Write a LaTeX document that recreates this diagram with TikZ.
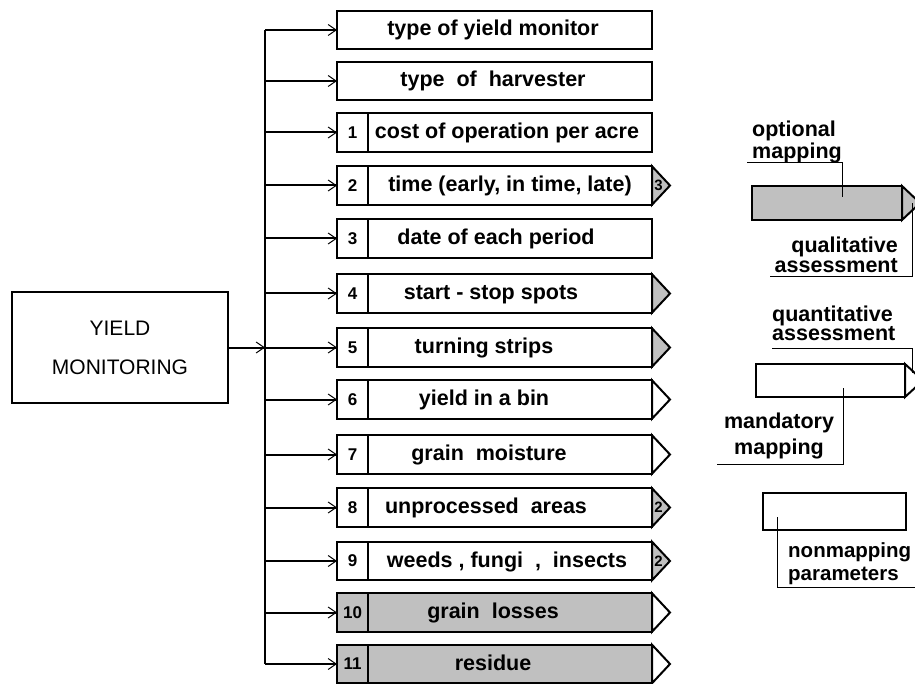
\documentclass[tikz,border=0pt]{standalone}
\usepackage{fontspec}
\setmainfont{Liberation Sans}
\usetikzlibrary{arrows.meta}
\definecolor{panelgray}{RGB}{192,192,192}

\begin{document}
\begin{tikzpicture}[x=1pt,y=-1pt,
  frame/.style={draw,line width=2.4pt,inner sep=0pt,outer sep=0pt},
  rowbox/.style={frame,minimum width=315pt,minimum height=38.5pt},
  numcell/.style={frame,minimum width=31pt,minimum height=38.5pt,anchor=west,
    font=\bfseries\fontsize{17}{17}\selectfont},
  label/.style={inner sep=0pt,anchor=base,font=\bfseries\fontsize{21.5}{21.5}\selectfont},
  tipnum/.style={inner sep=0pt,font=\bfseries\fontsize{15}{15}\selectfont},
  tip/.style={draw,line width=2pt,line join=miter},
  branch/.style={line width=2pt,-{Straight Barb[length=8pt,width=11pt,line width=1pt]}},
  trunk/.style={line width=2.6pt},
  leader/.style={line width=1pt},
  legtext/.style={inner sep=0pt,font=\bfseries\fontsize{21.5}{#1}\selectfont},
]
\useasboundingbox (0,0) rectangle (915,684);

% root box
\node[frame,minimum width=216pt,minimum height=111pt,align=center,
      font=\fontsize{21}{39}\selectfont] (ym) at (120,347.5) {YIELD\\MONITORING};

% parameter rows (text nodes sit on their baselines)
\node[rowbox] (b0) at (494.5,30) {};
\node[label] (t0) at (493,36) {type of yield monitor};

\node[rowbox] (b1) at (494.5,81) {};
\node[label] (t1) at (493,87) {type\ \ of\ \ harvester};

\node[rowbox] (b2) at (494.5,132.5) {};
\node[numcell] (n2) at (b2.west) {1};
\node[label] (t2) at (507,138.5) {cost of operation per acre};

\node[rowbox] (b3) at (494.5,185.5) {};
\node[numcell] (n3) at (b3.west) {2};
\node[label] (t3) at (510,191.5) {time (early, in time, late)};

\node[rowbox] (b4) at (494.5,238.5) {};
\node[numcell] (n4) at (b4.west) {3};
\node[label] (t4) at (496,244.5) {date of each period};

\node[rowbox] (b5) at (494.5,293.5) {};
\node[numcell] (n5) at (b5.west) {4};
\node[label] (t5) at (491,299.5) {start - stop spots};

\node[rowbox] (b6) at (494.5,347.5) {};
\node[numcell] (n6) at (b6.west) {5};
\node[label] (t6) at (484,353.5) {turning strips};

\node[rowbox] (b7) at (494.5,399.5) {};
\node[numcell] (n7) at (b7.west) {6};
\node[label] (t7) at (484,405.5) {yield in a bin};

\node[rowbox] (b8) at (494.5,454.5) {};
\node[numcell] (n8) at (b8.west) {7};
\node[label] (t8) at (489,460.5) {grain\ \ moisture};

\node[rowbox] (b9) at (494.5,507.5) {};
\node[numcell] (n9) at (b9.west) {8};
\node[label] (t9) at (486,513.5) {unprocessed\ \ areas};

\node[rowbox] (b10) at (494.5,561) {};
\node[numcell] (n10) at (b10.west) {9};
\node[label] (t10) at (507,567) {weeds , fungi\ \ ,\ \ insects};

\node[rowbox,fill=panelgray] (b11) at (494.5,612.5) {};
\node[numcell,fill=panelgray] (n11) at (b11.west) {10};
\node[label] (t11) at (493,618.5) {grain\ \ losses};

\node[rowbox,fill=panelgray] (b12) at (494.5,664) {};
\node[numcell,fill=panelgray] (n12) at (b12.west) {11};
\node[label] (t12) at (493,670) {residue};

% assessment tips
\foreach \r/\f in {3/panelgray,5/panelgray,6/panelgray,7/white,8/white,
                   9/panelgray,10/panelgray,11/white,12/white}{
  \draw[tip,fill=\f] (b\r.north east) -- ([xshift=18pt]b\r.east) -- (b\r.south east) -- cycle;
}
\node[tipnum] (q3) at ([xshift=6.5pt]b3.east) {3};
\node[tipnum] (q9) at ([xshift=6.5pt]b9.east) {2};
\node[tipnum] (q10) at ([xshift=6.5pt]b10.east) {2};

% trunk and branches
\foreach \r in {0,...,12}{
  \coordinate (j\r) at (265,0 |- b\r.west);
}
\draw[trunk] (j0) -- (j12);
\foreach \r in {0,...,12}{
  \draw[branch] (j\r) -- (b\r.west);
}
\draw[branch] (ym.east) -- (j6);

% legend: optional mapping / qualitative assessment
\node[frame,fill=panelgray,minimum width=150pt,minimum height=34pt] (lg1) at (827,203) {};
\draw[tip,fill=panelgray] (lg1.north east) -- ([xshift=18pt]lg1.east) -- (lg1.south east) -- cycle;
\node[legtext=19,align=left,anchor=west] (lt1) at (752,142) {optional\\mapping};
\node[legtext=18,align=right,anchor=east] (lt2) at (898,255) {qualitative\\assessment};
\coordinate (p1) at (747,163);
\coordinate (p2) at (842,197);
\coordinate (p3) at (770,277);
\coordinate (p4) at (912,203);
\draw[leader] (p1) -| (p2);
\draw[leader] (p3) -| (p4);

% legend: mandatory mapping / quantitative assessment
\node[frame,minimum width=149pt,minimum height=33pt] (lg2) at (830.5,380.5) {};
\draw[tip,fill=white] (lg2.north east) -- ([xshift=18pt]lg2.east) -- (lg2.south east) -- cycle;
\node[legtext=18,align=left,anchor=west] (lt3) at (772,323.5) {quantitative\\assessment};
\node[legtext=26,align=center] (lt4) at (779,436) {mandatory\\mapping};
\coordinate (p5) at (772,348);
\coordinate (p6) at (912,373);
\coordinate (p7) at (843,388);
\coordinate (p8) at (717,464);
\draw[leader] (p5) -| (p6);
\draw[leader] (p7) |- (p8);

% legend: nonmapping parameters
\node[frame,minimum width=143pt,minimum height=37pt] (lg3) at (834.5,511.5) {};
\node[inner sep=0pt,align=left,anchor=west,font=\bfseries\fontsize{20.5}{23}\selectfont]
  (lt5) at (788,564) {nonmapping\\parameters};
\coordinate (p9) at (777,517);
\coordinate (p10) at (915,587);
\draw[leader] (p9) |- (p10);
\end{tikzpicture}
\end{document}
